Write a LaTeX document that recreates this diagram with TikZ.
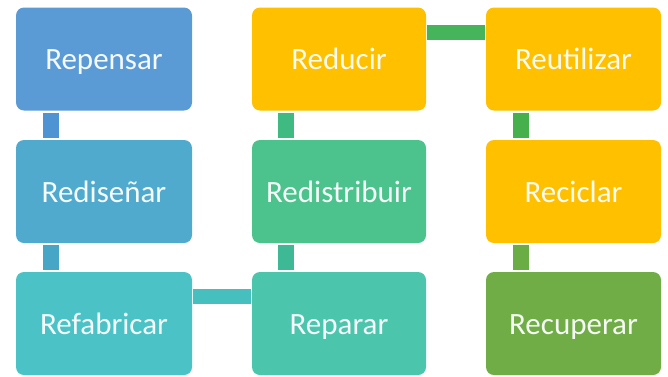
\documentclass[tikz,border=0pt]{standalone}
\usepackage{fontspec}
\setmainfont{Carlito}
\definecolor{cRepensar}{HTML}{5B9BD5}
\definecolor{cRedisenar}{HTML}{4FAACE}
\definecolor{cRefabricar}{HTML}{4BC3C6}
\definecolor{cReparar}{HTML}{4CC5AD}
\definecolor{cRedistribuir}{HTML}{4CC28C}
\definecolor{cGold}{HTML}{FFC000}
\definecolor{cRecuperar}{HTML}{70AD47}
\definecolor{kA}{HTML}{4E93D2}
\definecolor{kB}{HTML}{47A6C6}
\definecolor{kC}{HTML}{45C0BE}
\definecolor{kD}{HTML}{3FBB82}
\definecolor{kE}{HTML}{3EB995}
\definecolor{kF}{HTML}{45B45A}
\definecolor{kG}{HTML}{46B04C}
\definecolor{kH}{HTML}{6AAD45}
\begin{document}
\begin{tikzpicture}[x=1pt,y=-1pt,
  rbox/.style={rounded corners=8pt,inner sep=0pt,minimum width=176pt,
    minimum height=103pt,fill=#1,text=white!94!#1,text height=23pt,text depth=2pt,
    font=\fontsize{31}{36}\selectfont},
  vconn/.style={line width=16pt,shorten >=2pt,shorten <=2pt,#1},
  hconn/.style={line width=15pt,shorten >=1pt,shorten <=1pt,#1},
  ]
\useasboundingbox (0,0) rectangle (668,376);
% boxes
\node[rbox=cRepensar] (repensar) at (104,59) {Repensar};
\node[rbox=cRedisenar] (redisenar) at (104,191.5) {Rediseñar};
\node[rbox=cRefabricar] (refabricar) at (104,323.5) {Refabricar};
\node[rbox=cGold,minimum width=174pt] (reducir) at (339,59) {Reducir};
\node[rbox=cRedistribuir,minimum width=174pt] (redistribuir) at (339,191.5) {Redistribuir};
\node[rbox=cReparar,minimum width=174pt] (reparar) at (339,323.5) {Reparar};
\node[rbox=cGold,minimum width=175pt] (reutilizar) at (573.5,59) {Reutilizar};
\node[rbox=cGold,minimum width=175pt] (reciclar) at (573.5,191.5) {Reciclar};
\node[rbox=cRecuperar,minimum width=175pt] (recuperar) at (573.5,323.5) {Recuperar};
% connectors
\draw[vconn=kA] ([xshift=35pt]repensar.south west) -- ([xshift=35pt]redisenar.north west);
\draw[vconn=kB] ([xshift=35pt]redisenar.south west) -- ([xshift=35pt]refabricar.north west);
\draw[hconn=kC] ([yshift=-25pt]refabricar.north east) -- ([yshift=-25pt]reparar.north west);
\draw[vconn=kE] ([xshift=34.5pt]reparar.north west) -- ([xshift=34.5pt]redistribuir.south west);
\draw[vconn=kD] ([xshift=34.5pt]redistribuir.north west) -- ([xshift=34.5pt]reducir.south west);
\draw[hconn=kF] ([yshift=-25.5pt]reducir.north east) -- ([yshift=-25.5pt]reutilizar.north west);
\draw[vconn=kG] ([xshift=35pt]reutilizar.south west) -- ([xshift=35pt]reciclar.north west);
\draw[vconn=kH] ([xshift=35pt]reciclar.south west) -- ([xshift=35pt]recuperar.north west);
\end{tikzpicture}
\end{document}
